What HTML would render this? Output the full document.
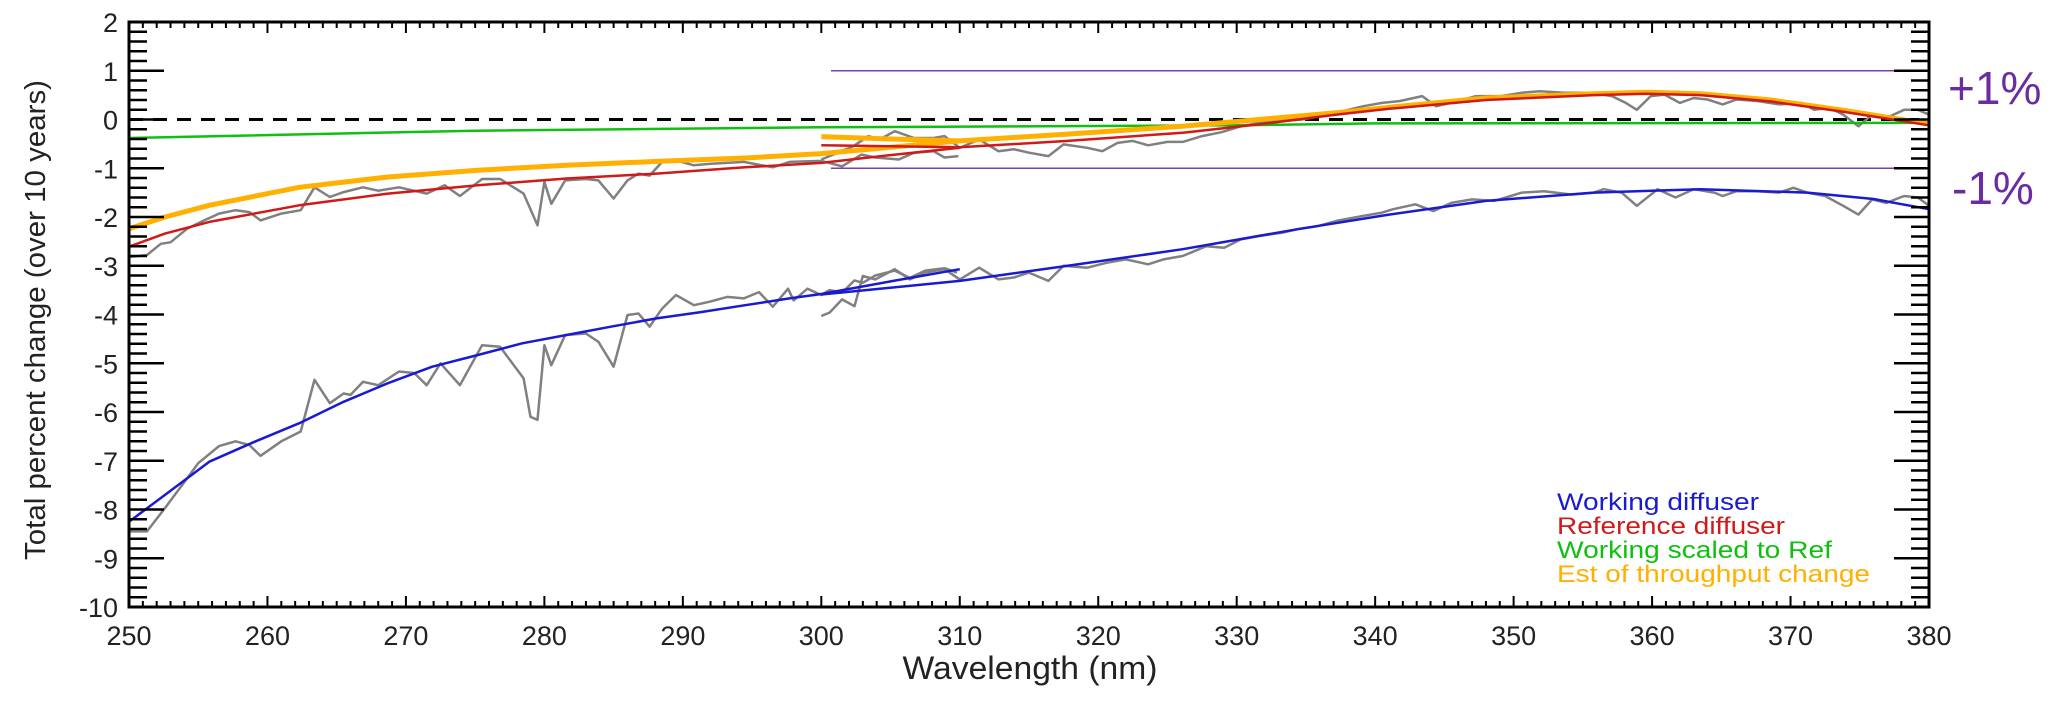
<!DOCTYPE html>
<html><head><meta charset="utf-8"><style>
html,body{margin:0;padding:0;background:#fff;}
svg{display:block;font-family:"Liberation Sans",sans-serif;}
</style></head><body>
<svg id="chart" width="2067" height="703" viewBox="0 0 2067 703" xmlns="http://www.w3.org/2000/svg">
<g id="marks"></g>
<g id="axes"></g>
<text transform="translate(45,320) rotate(-90)" text-anchor="middle" font-size="29" textLength="480" lengthAdjust="spacingAndGlyphs" fill="#222">Total percent change (over 10 years)</text>
<text x="1030" y="679" text-anchor="middle" font-size="32" textLength="255" lengthAdjust="spacingAndGlyphs" fill="#222">Wavelength (nm)</text>
<text x="1948" y="104" font-size="46" fill="#6a2ca0">+1%</text>
<text x="1952" y="204" font-size="46" fill="#6a2ca0">-1%</text>
<g font-size="24">
<text x="1557" y="510" fill="#1a1ad0" textLength="202" lengthAdjust="spacingAndGlyphs">Working diffuser</text>
<text x="1557" y="534" fill="#d01a1a" textLength="228" lengthAdjust="spacingAndGlyphs">Reference diffuser</text>
<text x="1557" y="558" fill="#10c010" textLength="275" lengthAdjust="spacingAndGlyphs">Working scaled to Ref</text>
<text x="1557" y="582" fill="#ffb000" textLength="313" lengthAdjust="spacingAndGlyphs">Est of throughput change</text>
</g>
</svg>
<script>
// ---- data ----
const xTicks=[250,260,270,280,290,300,310,320,330,340,350,360,370,380];
const yTicks=[2,1,0,-1,-2,-3,-4,-5,-6,-7,-8,-9,-10];
const rawWorkA_x=[250,251.3,252.6,254.2,255,256.5,257.7,258.7,259.5,261,262.4,263.4,264.5,265.5,266,266.9,268,269.5,270.6,271.5,272.5,273.9,275.5,276.8,277.6,278.5,279,279.5,280,280.5,281.5,283,283.9,285,286,286.8,287.6,288.5,289.5,290.8,291.9,293.2,294.4,295.5,296.5,297.6,298,299,300,300.6,301.5,302.4,303,303.9,305.3,306.4,307.5,308.9,309.8];
const rawWorkA_y=[-8.45,-8.45,-7.97,-7.36,-7.05,-6.7,-6.6,-6.68,-6.9,-6.6,-6.4,-5.34,-5.82,-5.62,-5.65,-5.38,-5.45,-5.17,-5.2,-5.45,-5.0,-5.45,-4.63,-4.66,-4.97,-5.31,-6.1,-6.16,-4.63,-5.04,-4.42,-4.39,-4.56,-5.07,-4.01,-3.98,-4.25,-3.88,-3.6,-3.81,-3.74,-3.64,-3.67,-3.54,-3.84,-3.47,-3.71,-3.47,-3.6,-3.5,-3.55,-3.3,-3.35,-3.2,-3.1,-3.25,-3.1,-3.05,-3.14];
const rawWorkB_x=[300,300.6,301.5,302.4,303,303.9,305.3,306.4,307.5,308.9,310,311.4,312.8,313.9,315,316.4,317.5,319.2,320.6,322,323.6,324.7,326.1,327.8,329.1,330.3,331.6,333.3,334.4,335.8,337.2,339.1,340.5,341.3,342.9,344.2,345.5,347,348.6,350.6,352.2,354.2,355.8,356.5,357.8,358.9,360.4,361.7,363,364.5,365.1,366.1,367.6,369.2,370.2,371.2,372.5,373.8,374.9,375.9,376.9,378.2,379.2,380];
const rawWorkB_y=[-4.03,-3.96,-3.69,-3.83,-3.21,-3.28,-3.07,-3.28,-3.14,-3.07,-3.28,-3.04,-3.28,-3.24,-3.14,-3.31,-3.0,-3.04,-2.94,-2.87,-2.97,-2.87,-2.8,-2.6,-2.63,-2.46,-2.39,-2.32,-2.25,-2.19,-2.08,-1.98,-1.91,-1.84,-1.74,-1.88,-1.71,-1.64,-1.67,-1.5,-1.47,-1.54,-1.5,-1.43,-1.5,-1.77,-1.43,-1.6,-1.43,-1.5,-1.57,-1.47,-1.47,-1.5,-1.4,-1.5,-1.57,-1.77,-1.95,-1.64,-1.71,-1.57,-1.6,-1.77];
const rawRefA_x=[250,251.3,252.3,253,254.2,255.2,256.5,257.7,258.7,259.5,261,262.4,263.4,264.5,265.5,266.9,268,269.5,271.5,272.8,273.9,275.5,276.8,278.5,279.5,280,280.5,281.5,283,283.9,285,286,286.8,287.6,288.5,289.5,290.8,291.9,294.4,296.5,297.7,300,301.5,302.9,303.9,305.6,306.7,308.1,308.9,309.9];
const rawRefA_y=[-2.82,-2.78,-2.55,-2.52,-2.24,-2.1,-1.93,-1.86,-1.9,-2.07,-1.93,-1.86,-1.39,-1.59,-1.49,-1.39,-1.46,-1.39,-1.52,-1.35,-1.57,-1.22,-1.22,-1.52,-2.17,-1.28,-1.73,-1.25,-1.22,-1.25,-1.62,-1.25,-1.11,-1.15,-0.87,-0.84,-0.94,-0.91,-0.87,-0.98,-0.87,-0.85,-0.96,-0.72,-0.78,-0.82,-0.68,-0.65,-0.78,-0.75];
const rawRefB_x=[300,301.2,302.3,303.4,304.2,305.3,306.7,308.1,308.9,310,311.4,312.8,313.9,315,316.4,317.5,319.2,320.3,321.4,322.5,323.6,325,326.1,327.5,328.9,330.3,331.6,333.3,334.7,336.1,337.2,339.1,340.5,341.8,343.4,344.4,346,347.3,349.1,350.6,351.9,353.7,355.5,357.1,358.1,358.9,359.9,360.9,362,363,364,365.1,366.1,367.6,369.2,370.8,371.7,372.8,373.8,374.9,375.9,376.9,378.2,379.2,380];
const rawRefB_y=[-0.82,-0.68,-0.55,-0.34,-0.41,-0.24,-0.38,-0.38,-0.34,-0.58,-0.41,-0.65,-0.61,-0.68,-0.75,-0.51,-0.58,-0.65,-0.48,-0.44,-0.53,-0.46,-0.46,-0.34,-0.26,-0.14,-0.07,-0.03,0.0,0.07,0.14,0.27,0.34,0.38,0.48,0.27,0.38,0.48,0.48,0.55,0.58,0.55,0.55,0.48,0.34,0.2,0.48,0.51,0.34,0.44,0.41,0.31,0.41,0.38,0.31,0.34,0.2,0.24,0.1,-0.14,0.1,0.03,0.2,0.2,0.1];
const fitWorkA_x=[250,252.6,255.8,259,262.3,265.5,268.7,271.9,275.2,278.4,281.6,284.8,288.1,291.3,294.5,297.7,300,305,310];
const fitWorkA_y=[-8.25,-7.7,-7.02,-6.62,-6.23,-5.79,-5.41,-5.07,-4.83,-4.59,-4.42,-4.25,-4.08,-3.95,-3.81,-3.67,-3.58,-3.32,-3.07];
const fitWorkB_x=[300,310,317.8,326.1,334.4,341,348,355.8,363.5,371.2,376,380];
const fitWorkB_y=[-3.59,-3.31,-3.0,-2.66,-2.25,-1.95,-1.67,-1.5,-1.43,-1.5,-1.63,-1.84];
const fitRefA_x=[250,252.6,255.8,262.3,268.7,275.2,281.6,288.1,294.5,300,305,310];
const fitRefA_y=[-2.61,-2.34,-2.1,-1.76,-1.52,-1.35,-1.21,-1.11,-0.98,-0.89,-0.73,-0.58];
const fitRefB_x=[300,305,310,317.8,326.1,331.6,337.2,341,348,355.8,359.6,363.5,368.6,373.8,380];
const fitRefB_y=[-0.53,-0.55,-0.57,-0.44,-0.27,-0.1,0.1,0.22,0.4,0.5,0.53,0.5,0.37,0.16,-0.12];
const estA_x=[250,252.6,255.8,262.3,268.7,275.2,281.6,288.1,294.5,300,305,310];
const estA_y=[-2.24,-2.0,-1.76,-1.39,-1.18,-1.04,-0.94,-0.86,-0.79,-0.7,-0.57,-0.44];
const estB_x=[300,305,310,317.8,326.1,331.6,337.2,341,348,355.8,359.6,363.5,368.6,373.8,380];
const estB_y=[-0.35,-0.4,-0.44,-0.3,-0.14,0.0,0.14,0.25,0.44,0.53,0.56,0.53,0.4,0.19,-0.09];
const scaled_x=[250,275,300,330,340,380];
const scaled_y=[-0.38,-0.23,-0.16,-0.12,-0.08,-0.07];
const limitLevels=[1,-1];

// ---- scales ----
const X0=129,X1=1929,Y0=22,Y1=607;
function sx(v){return X0+(v-250)/(380-250)*(X1-X0);}
function sy(v){return Y0+(2-v)/(12)*(Y1-Y0);}
const NS='http://www.w3.org/2000/svg';
const marks=document.getElementById('marks'),axes=document.getElementById('axes');
function mk(tag,attrs,parent){const e=document.createElementNS(NS,tag);for(const k in attrs)e.setAttribute(k,attrs[k]);parent.appendChild(e);return e;}
function line(xs,ys,color,w,name){
  const d=xs.map((x,i)=>(i?'L':'M')+sx(x).toFixed(1)+','+sy(ys[i]).toFixed(1)).join('');
  const p=mk('path',{d:d,fill:'none',stroke:color,'stroke-width':w,'stroke-linejoin':'round'},marks);
  
  
}
const z=mk('line',{x1:X0,x2:X1,y1:sy(0),y2:sy(0),stroke:'#000','stroke-width':3,'stroke-dasharray':'14,10'},marks);


limitLevels.forEach(v=>{
  const l=mk('line',{x1:sx(300.7),x2:X1,y1:sy(v),y2:sy(v),stroke:'#7a3fb0','stroke-width':1.5},marks);
  
  
});
line(rawWorkA_x,rawWorkA_y,'#808080',2.5,'working-raw-segment-a');
line(rawWorkB_x,rawWorkB_y,'#808080',2.5,'working-raw-segment-b');
line(rawRefA_x,rawRefA_y,'#808080',2.5,'reference-raw-segment-a');
line(rawRefB_x,rawRefB_y,'#808080',2.5,'reference-raw-segment-b');
line(scaled_x,scaled_y,'#10c010',2.5,'working-scaled-line');
line(estA_x,estA_y,'#ffb000',5,'throughput-est-segment-a');
line(estB_x,estB_y,'#ffb000',5,'throughput-est-segment-b');
line(fitRefA_x,fitRefA_y,'#d01a1a',2.5,'reference-fit-segment-a');
line(fitRefB_x,fitRefB_y,'#d01a1a',2.5,'reference-fit-segment-b');
line(fitWorkA_x,fitWorkA_y,'#1a1ad0',2.5,'working-fit-segment-a');
line(fitWorkB_x,fitWorkB_y,'#1a1ad0',2.5,'working-fit-segment-b');

// ---- axes ----
const fr=mk('rect',{x:X0,y:Y0,width:X1-X0,height:Y1-Y0,fill:'none',stroke:'#000','stroke-width':3},axes);


for(let n=250;n<=380;n++){
  const major=(n%10===0);const L=major?11:6;const x=sx(n);
  mk('line',{x1:x,x2:x,y1:Y1,y2:Y1-L,stroke:'#000','stroke-width':2},axes);
  mk('line',{x1:x,x2:x,y1:Y0,y2:Y0+L,stroke:'#000','stroke-width':2},axes);
}
for(let k=-50;k<=10;k++){
  const v=k/5;const major=(k%5===0);const L=major?35:18;const y=sy(v);
  mk('line',{x1:X0,x2:X0+L,y1:y,y2:y,stroke:'#000','stroke-width':2.5},axes);
  mk('line',{x1:X1,x2:X1-L,y1:y,y2:y,stroke:'#000','stroke-width':2.5},axes);
}
xTicks.forEach(v=>{
  const t=mk('text',{x:sx(v),y:645,'text-anchor':'middle','font-size':27,fill:'#222'},axes);
  t.textContent=v;
  
  
});
yTicks.forEach(v=>{
  const t=mk('text',{x:118,y:sy(v)+10,'text-anchor':'end','font-size':27,fill:'#222'},axes);
  t.textContent=v;
  
  
});
</script>
</body></html>
